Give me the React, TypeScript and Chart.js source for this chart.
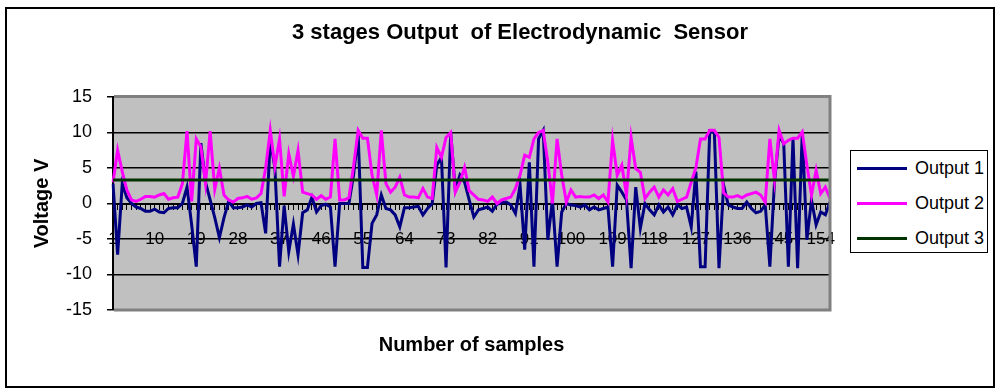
import React, { useEffect, useRef } from 'react';
import { Chart, registerables } from 'chart.js';

Chart.register(...registerables);

const FONT = '"Liberation Sans", Arial, sans-serif';

const chartTitle = '3 stages Output  of Electrodynamic  Sensor';
const xAxisTitle = 'Number of samples';
const yAxisTitle = 'Voltage V';

const seriesNames = ['Output 1', 'Output 2', 'Output 3'];
const seriesColors = ['#000080', '#FF00FF', '#003300'];

const sampleCount = 156;
const sampleNumbers = Array.from({ length: sampleCount }, (_, i) => String(i + 1));
const xTickLabels = ['1', '10', '19', '28', '37', '46', '55', '64', '73', '82', '91', '100', '109', '118', '127', '136', '145', '154'];
const yTicks = [-15, -10, -5, 0, 5, 10, 15];

const output1 = [
  2.8, -7.2, 2.8, 0.8, 0.0, -0.5, -0.7, -1.1, -1.1, -0.8,
  -1.2, -1.3, -0.7, -0.6, -0.6, 0.0, 2.3, -3.0, -8.9, 8.5,
  3.0, 0.5, -2.0, -4.8, -2.0, 0.3, -0.6, -0.6, -0.5, -0.2,
  -0.5, 0.0, 0.1, -4.2, 9.0, 5.0, -8.9, -0.3, -6.8, -2.9,
  -7.2, -1.3, -0.9, 0.9, -1.2, -0.3, -0.1, -0.5, -8.9, 0.0,
  0.0, 0.0, 4.0, 9.8, -9.0, -9.0, -2.8, -1.6, 1.2, -0.7,
  -0.9, -1.6, -3.3, -0.6, -0.6, -0.5, -0.4, -1.6, -0.7, 0.0,
  5.4, 6.5, -9.0, 10.0, 1.9, 4.0, 3.0, 0.5, -1.9, -0.9,
  -0.7, -0.5, -1.1, -0.1, 0.1, 0.2, -0.2, -1.4, 2.6, -6.5,
  5.8, -8.9, 9.1, 10.3, -5.1, 0.5, -8.9, -1.2, 0.0, -0.2,
  -0.3, -0.5, -0.2, -0.9, -0.5, -0.9, -0.7, -0.5, -8.9, 2.6,
  1.6, 0.5, -9.1, 2.3, -3.5, 0.0, -0.9, -1.6, -0.2, -1.2,
  -0.5, -1.6, -0.2, -0.7, -0.5, -3.3, 4.5, -8.9, -8.9, 10.2,
  10.0, -9.1, 2.6, -0.2, -0.5, -0.7, -0.7, 0.2, -0.7, -1.3,
  -1.1, -0.2, -8.9, 3.0, 9.6, 8.4, -8.9, 9.2, -9.1, 10.0,
  -5.1, 0.5, -3.0, -1.2, -1.6, 0.2,
];

const output2 = [
  3.0, 7.5, 4.5, 1.9, 0.5, 0.3, 0.6, 1.0, 1.0, 0.9,
  1.2, 1.4, 0.6, 0.8, 0.9, 2.8, 10.2, 0.3, 9.1, 8.0,
  2.8, 10.2, 2.0, 5.0, 1.2, 0.5, 0.2, 0.7, 0.8, 1.0,
  0.6, 0.8, 1.4, 5.0, 10.3, 5.2, 9.1, 1.0, 7.0, 3.8,
  7.5, 1.6, 1.4, 1.2, 0.6, 1.1, 0.6, 0.9, 9.1, 0.5,
  0.5, 0.8, 5.2, 10.3, 9.2, 9.2, 4.0, 1.2, 10.3, 2.8,
  1.6, 2.3, 3.7, 1.2, 0.9, 0.9, 0.8, 2.1, 0.9, 0.7,
  7.9, 6.5, 9.3, 10.0, 1.6, 3.0, 5.1, 1.8, 1.2, 0.6,
  0.5, 0.3, 0.9, 0.0, 0.5, 0.7, 0.9, 2.1, 4.0, 6.8,
  6.5, 9.1, 10.0, 10.3, 5.8, 0.0, 9.1, 4.0, 0.2, 1.9,
  0.9, 1.0, 0.9, 0.9, 1.2, 0.7, 1.2, 0.2, 8.9, 4.0,
  5.4, 1.2, 9.3, 4.9, 4.4, 0.7, 1.6, 2.3, 0.9, 1.9,
  1.2, 2.1, 0.3, 0.6, 0.9, 3.0, 5.0, 9.1, 9.1, 10.3,
  10.3, 9.3, 1.5, 0.9, 0.9, 1.1, 0.8, 1.2, 1.4, 1.6,
  1.2, 0.2, 9.1, 3.3, 10.3, 8.4, 8.9, 9.2, 9.2, 10.1,
  5.4, 1.2, 4.7, 1.4, 2.3, 0.7,
];

const output3 = [
  3.3, 3.3, 3.3, 3.3, 3.3, 3.3, 3.3, 3.3, 3.3, 3.3, 3.3, 3.3, 3.3,
  3.3, 3.3, 3.3, 3.3, 3.3, 3.3, 3.3, 3.3, 3.3, 3.3, 3.3, 3.3, 3.3,
  3.3, 3.3, 3.3, 3.3, 3.3, 3.3, 3.3, 3.3, 3.3, 3.3, 3.3, 3.3, 3.3,
  3.3, 3.3, 3.3, 3.3, 3.3, 3.3, 3.3, 3.3, 3.3, 3.3, 3.3, 3.3, 3.3,
  3.3, 3.3, 3.3, 3.3, 3.3, 3.3, 3.3, 3.3, 3.3, 3.3, 3.3, 3.3, 3.3,
  3.3, 3.3, 3.3, 3.3, 3.3, 3.3, 3.3, 3.3, 3.3, 3.3, 3.3, 3.3, 3.3,
  3.3, 3.3, 3.3, 3.3, 3.3, 3.3, 3.3, 3.3, 3.3, 3.3, 3.3, 3.3, 3.3,
  3.3, 3.3, 3.3, 3.3, 3.3, 3.3, 3.3, 3.3, 3.3, 3.3, 3.3, 3.3, 3.3,
  3.3, 3.3, 3.3, 3.3, 3.3, 3.3, 3.3, 3.3, 3.3, 3.3, 3.3, 3.3, 3.3,
  3.3, 3.3, 3.3, 3.3, 3.3, 3.3, 3.3, 3.3, 3.3, 3.3, 3.3, 3.3, 3.3,
  3.3, 3.3, 3.3, 3.3, 3.3, 3.3, 3.3, 3.3, 3.3, 3.3, 3.3, 3.3, 3.3,
  3.3, 3.3, 3.3, 3.3, 3.3, 3.3, 3.3, 3.3, 3.3, 3.3, 3.3, 3.3, 3.3,
];

const seriesData = [output1, output2, output3];

const framePlugin = {
  id: 'excelFrame',
  beforeDraw(chart: any) {
    const { ctx, chartArea: a } = chart;
    ctx.save();
    ctx.fillStyle = '#C0C0C0';
    ctx.fillRect(a.left, a.top, a.right - a.left, a.bottom - a.top);
    ctx.restore();
  },
  afterDraw(chart: any) {
    const { ctx, chartArea: a } = chart;
    ctx.save();
    ctx.strokeStyle = '#808080';
    ctx.lineWidth = 3;
    ctx.beginPath();
    ctx.moveTo(a.left + 1, a.top - 0.5);
    ctx.lineTo(a.right, a.top - 0.5);
    ctx.lineTo(a.right, a.bottom);
    ctx.lineTo(a.left + 1, a.bottom);
    ctx.stroke();
    ctx.fillStyle = '#000';
    ctx.textAlign = 'center';
    ctx.textBaseline = 'middle';
    ctx.font = `bold 22px ${FONT}`;
    ctx.fillText(chartTitle, 520, 33);
    ctx.font = `bold 20px ${FONT}`;
    ctx.fillText(xAxisTitle, (a.left + a.right) / 2, 345);
    ctx.restore();
  },
};

export default function App() {
  const canvasRef = useRef<HTMLCanvasElement>(null);

  useEffect(() => {
    const canvas = canvasRef.current;
    if (!canvas) return;
    const chart = new Chart(canvas, {
      type: 'line',
      data: {
        labels: sampleNumbers,
        datasets: seriesNames.map((name, k) => ({
          label: name,
          data: seriesData[k],
          borderColor: seriesColors[k],
          backgroundColor: seriesColors[k],
          borderWidth: 3,
          pointRadius: 0,
          pointHoverRadius: 0,
          tension: 0,
          fill: false,
          order: 3 - k,
        })),
      },
      options: {
        responsive: false,
        animation: false,
        events: [],
        layout: { padding: { left: 20, top: 97, right: 170, bottom: 82 } },
        plugins: {
          legend: { display: false },
          tooltip: { enabled: false },
          title: { display: false },
        },
        scales: {
          x: {
            type: 'category',
            position: { y: 0 } as any,
            offset: false,
            grid: { drawOnChartArea: false, drawTicks: true, tickLength: 5, color: '#000', lineWidth: 1 },
            border: { display: true, color: '#000', width: 2 },
            ticks: {
              autoSkip: false,
              maxRotation: 0,
              minRotation: 0,
              padding: 21,
              color: '#000',
              font: { family: FONT, size: 17 },
              callback: (_v: any, i: number) => (xTickLabels.includes(sampleNumbers[i]) ? sampleNumbers[i] : ''),
            },
          },
          y: {
            type: 'linear',
            min: yTicks[0],
            max: yTicks[yTicks.length - 1],
            afterFit: (s: any) => {
              s.width = 93;
            },
            grid: { color: '#000', lineWidth: 1.5, tickLength: 6 },
            border: { display: true, color: '#000', width: 2 },
            ticks: { stepSize: 5, padding: 15, color: '#000', font: { family: FONT, size: 18 } },
            title: {
              display: true,
              text: yAxisTitle,
              color: '#000',
              font: { family: FONT, size: 20, weight: 'bold' },
              padding: { top: 10, bottom: 0 },
            },
          },
        },
      },
      plugins: [framePlugin],
    });
    return () => chart.destroy();
  }, []);

  return (
    <div style={{ position: 'absolute', left: 0, top: 0, width: 1000, height: 392, background: '#fff' }}>
      <canvas ref={canvasRef} width={1000} height={392} style={{ position: 'absolute', left: 0, top: 0 }} />
      <div
        style={{
          position: 'absolute',
          left: 5,
          top: 7,
          width: 986,
          height: 377,
          border: '2px solid #000',
          pointerEvents: 'none',
        }}
      />
      <div
        style={{
          position: 'absolute',
          left: 850,
          top: 150,
          width: 136,
          height: 101,
          border: '1px solid #000',
          background: '#fff',
          fontFamily: FONT,
          fontSize: 18,
          color: '#000',
        }}
      >
        {seriesNames.map((name, k) => (
          <div
            key={name}
            style={{ position: 'absolute', left: 6, top: 7 + k * 35, height: 20, display: 'flex', alignItems: 'center', whiteSpace: 'nowrap' }}
          >
            <span style={{ display: 'inline-block', width: 50, height: 0, borderTop: `3px solid ${seriesColors[k]}` }} />
            <span style={{ marginLeft: 8, lineHeight: '20px' }}>{name}</span>
          </div>
        ))}
      </div>
    </div>
  );
}
